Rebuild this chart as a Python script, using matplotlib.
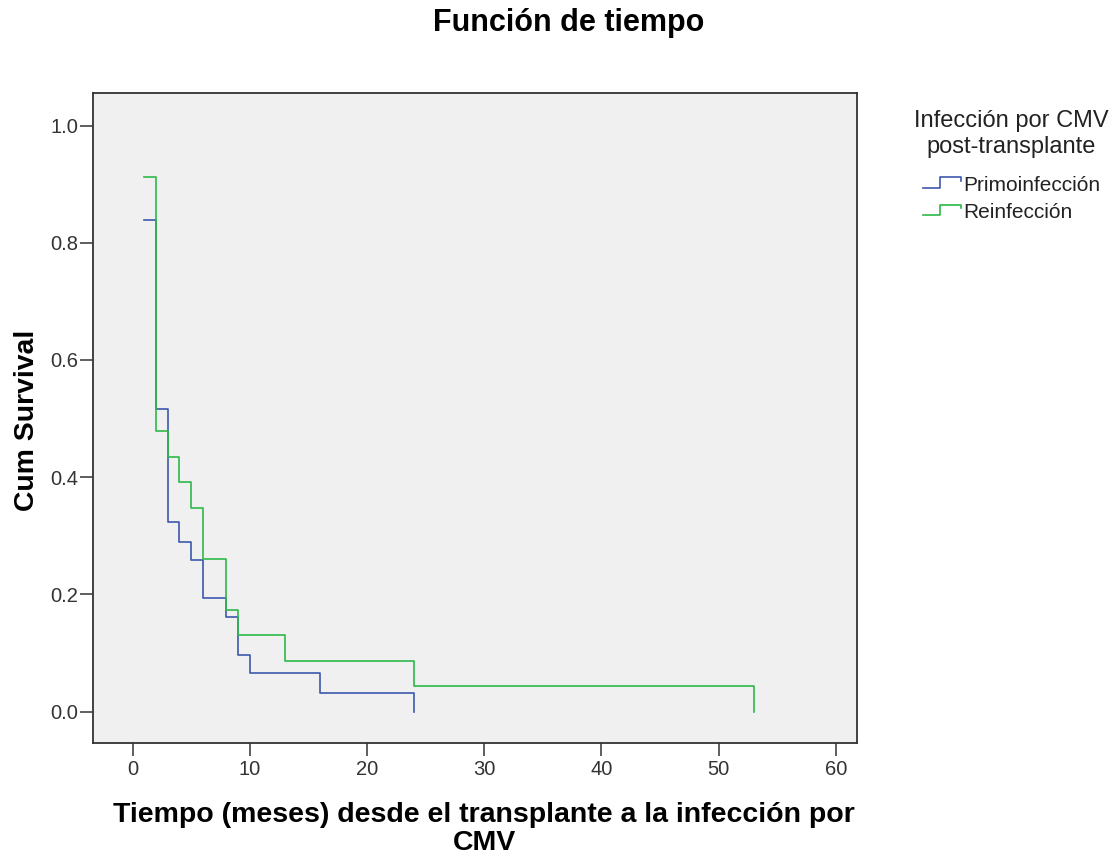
import matplotlib
matplotlib.use("Agg")
import matplotlib.pyplot as plt
from matplotlib.lines import Line2D
from matplotlib.legend_handler import HandlerBase

# Kaplan-Meier estimates by group (time in months, cumulative survival)
groups = ["Primoinfección", "Reinfección"]
primo_time = [1, 2, 3, 4, 5, 6, 8, 9, 10, 16, 24]
primo_surv = [0.839, 0.516, 0.323, 0.290, 0.258, 0.194, 0.161, 0.097, 0.065, 0.032, 0.0]
reinf_time = [1, 2, 3, 4, 5, 6, 8, 9, 13, 24, 53]
reinf_surv = [0.913, 0.478, 0.435, 0.391, 0.348, 0.261, 0.174, 0.130, 0.087, 0.043, 0.0]

x_ticks = [0, 10, 20, 30, 40, 50, 60]
y_ticks = [0.0, 0.2, 0.4, 0.6, 0.8, 1.0]

colors = ["#3E58AC", "#2EB848"]
font = "Liberation Sans"
text_color = "#222222"

fig = plt.figure(figsize=(11.18, 8.61), dpi=100)
W, H = 1118, 861
left, right, top, bottom = 93, 857, 93, 743
ax = fig.add_axes([left / W, 1 - bottom / H, (right - left) / W, (bottom - top) / H])
ax.set_facecolor("#F0F0F0")

ax.step(primo_time, primo_surv, where="post", color=colors[0], lw=1.2)
ax.step(reinf_time, reinf_surv, where="post", color=colors[1], lw=1.2)

ax.set_xlim(-3.37, 61.8)
ax.set_ylim(-0.0536, 1.0555)
ax.set_xticks(x_ticks)
ax.set_xticklabels([str(v) for v in x_ticks])
ax.set_yticks(y_ticks)
ax.set_yticklabels([f"{v:.1f}" for v in y_ticks])
ax.tick_params(direction="out", length=9.5, width=1.1, color="#333333",
               labelcolor="#333333", labelsize=14.5)
ax.tick_params(axis="x", pad=2.5)
ax.tick_params(axis="y", pad=1.0)
for lab in ax.get_xticklabels() + ax.get_yticklabels():
    lab.set_family(font)
for sp in ax.spines.values():
    sp.set_color("#333333")
    sp.set_linewidth(1.3)

fig.text(569 / W, 1 - 23 / H, "Función de tiempo", ha="center", va="center",
         fontsize=22, fontweight="bold", family=font)
fig.text(484 / W, 1 - 829 / H, "Tiempo (meses) desde el transplante a la infección por\nCMV",
         ha="center", va="center", fontsize=20.5, fontweight="bold", family=font,
         linespacing=1.08)
fig.text(27 / W, 1 - 420 / H, "Cum Survival", ha="center", va="center", rotation=90,
         fontsize=20.4, fontweight="bold", family=font)

# legend title, centred above the entries
fig.text(1011 / W, 1 - 134 / H, "Infección por CMV\npost-transplante",
         ha="center", va="center", multialignment="center", fontsize=17,
         family=font, color=text_color, linespacing=1.22)


class StepHandler(HandlerBase):
    def create_artists(self, legend, orig_handle, xdescent, ydescent, width, height,
                       fontsize, trans):
        x0, y0 = -xdescent, -ydescent
        xs = [x0, x0 + 0.45 * width, x0 + 0.45 * width, x0 + width, x0 + width]
        ys = [y0 + 0.2 * height, y0 + 0.2 * height, y0 + 0.93 * height,
              y0 + 0.93 * height, y0 + 0.7 * height]
        line = Line2D(xs, ys, color=orig_handle.get_color(), lw=1.2, transform=trans)
        return [line]


handles = [Line2D([], [], color=c) for c in colors]
leg = fig.legend(handles, groups, loc="upper left",
                 bbox_to_anchor=(923 / W, 1 - 176 / H),
                 handler_map={Line2D: StepHandler()},
                 frameon=False, handlelength=1.83, handletextpad=0.1,
                 labelspacing=0.39, borderpad=0.0, borderaxespad=0.0,
                 prop={"family": font, "size": 15})
for t in leg.get_texts():
    t.set_color(text_color)

fig.savefig("out.png", dpi=100, facecolor="white")
